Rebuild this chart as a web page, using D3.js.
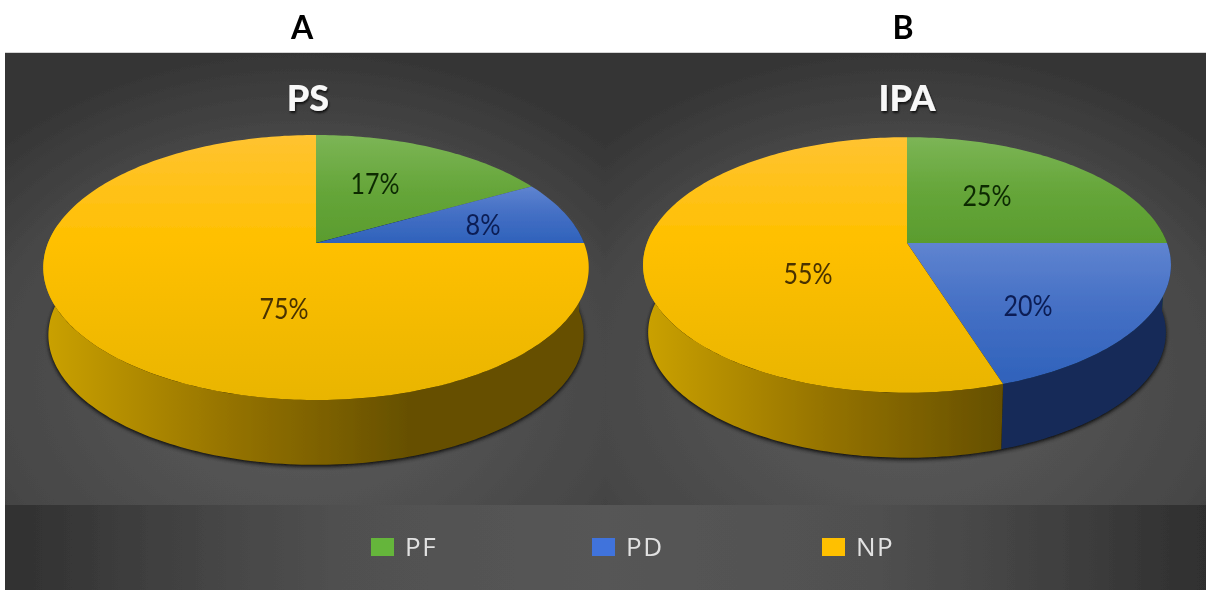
<!DOCTYPE html>
<html><head><meta charset="utf-8">
<script src="https://cdn.jsdelivr.net/npm/d3@7"></script>
<style>html,body{margin:0;padding:0;background:#fff;overflow:hidden}svg{display:block}</style>
</head><body><svg id="c" width="1206" height="590"></svg>
<script>
const categories = ["PF", "PD", "NP"];
const psValues = [17, 8, 75];
const ipaValues = [25, 20, 55];
const panelLetters = ["A", "B"];
const chartTitles = ["PS", "IPA"];

const layouts = [
  {x:5, w:600, cx:316, rx:268, k:0.185, R:128, rxB:263, RB:125.4, yB:311,
   lx:[375,483,284], ly:[184,225,309], letterX:302, titleX:308, wallEnd:408, wallStart:50},
  {x:605, w:601, cx:907, rx:260, k:0.172, R:124, rxB:255, RB:121.5, yB:311,
   lx:[987,1028,808], ly:[196,306,274], letterX:903, titleX:907, wallEnd:1000, wallStart:650}
];
const cy = 243;
const labelInk = ["#0e2c05", "#0b1f55", "#4a3300"];
const topStops = {
  PF:[["0","#7cb556"],["0.5","#66a63a"],["1","#5a9c2e"]],
  PD:[["0","#5f84d0"],["0.45","#4570c5"],["1","#2f62bb"]],
  NP:[["0","#ffc331"],["0.4","#ffc000"],["1","#e9b500"]]
};
const wallStops = {
  PF:[["0","#4f8a2a"],["1","#2a4a16"]],
  PD:[["0","#1a3566"],["1","#152c58"]],
  NP:[["0","#c9a000"],["0.5","#957300"],["1","#665000"]]
};
const swatchColors = {PF:"#65b53a",PD:"#3f73dc",NP:"#ffc000"};

const svg = d3.select("#c");
const defs = svg.append("defs");
const soft = defs.append("filter").attr("id","soft").attr("x","-2%").attr("y","-2%").attr("width","104%").attr("height","104%");
soft.append("feGaussianBlur").attr("stdDeviation",0.55);
const sh = defs.append("filter").attr("id","sh").attr("x","-10%").attr("y","-10%").attr("width","120%").attr("height","120%");
sh.append("feGaussianBlur").attr("stdDeviation",2.2);
const ts = defs.append("filter").attr("id","ts").attr("x","-20%").attr("y","-20%").attr("width","140%").attr("height","150%");
ts.append("feDropShadow").attr("dx",1).attr("dy",2).attr("stdDeviation",1).attr("flood-color","#000").attr("flood-opacity",0.75);

function stops(g, list){ list.forEach(s => g.append("stop").attr("offset",s[0]).attr("stop-color",s[1])); }

const bgG = defs.append("radialGradient").attr("id","bg").attr("cx","0.5").attr("cy","0.72").attr("r","0.72");
stops(bgG,[["0","#5a5a5a"],["0.45","#505050"],["0.75","#464646"],["1","#363636"]]);
const lgG = defs.append("linearGradient").attr("id","lg");
stops(lgG,[["0","#303030"],["0.12","#3f3f3f"],["0.28","#505050"],["0.5","#565656"],["0.72","#505050"],["0.88","#3f3f3f"],["1","#2f2f2f"]]);

const root = svg.append("g").attr("filter","url(#soft)");
root.append("rect").attr("x",0).attr("y",0).attr("width",1206).attr("height",590).attr("fill","#fff");
root.append("rect").attr("x",5).attr("y",52.5).attr("width",1201).attr("height",1).attr("fill","#aaa");

const pie = d3.pie().sort(null).value(d => d);
const line = d3.line();

[psValues, ipaValues].forEach((vals, i) => {
  const L = layouts[i];
  root.append("rect").attr("x",L.x).attr("y",53).attr("width",L.w).attr("height",452).attr("fill","url(#bg)");
  root.append("text").text(panelLetters[i]).attr("x",L.letterX).attr("y",39).attr("text-anchor","middle")
    .attr("font-family","Lato").attr("font-weight",700).attr("font-size",32).attr("fill","#000");
  root.append("text").text(chartTitles[i]).attr("x",L.titleX).attr("y",111).attr("text-anchor","middle")
    .attr("font-family","Lato").attr("font-weight",900).attr("font-size",36).attr("fill","#f8f8f8").attr("filter","url(#ts)");

  const topPt = a => { const u=Math.sin(a), v=-Math.cos(a), w=1-L.k*v; return [L.cx+L.rx*u/w, cy+L.R*v/w]; };
  const botPt = a => { const u=Math.sin(a), v=-Math.cos(a), w=1-L.k*v; return [L.cx+L.rxB*u/w, L.yB+L.RB*v/w]; };
  const arcPts = (fn,a0,a1) => { const n=Math.max(2,Math.ceil((a1-a0)/0.02)); return d3.range(n+1).map(j=>fn(a0+(a1-a0)*j/n)); };

  root.append("path").attr("d", line(arcPts(botPt,0,2*Math.PI))+"Z").attr("fill","#000").attr("opacity",0.95)
    .attr("transform","translate(0,1.5)").attr("filter","url(#sh)");

  const arcs = pie(vals);
  const g = root.append("g");
  arcs.forEach((d,j) => {
    const a0=Math.max(d.startAngle,Math.PI/2-0.15), a1=Math.min(d.endAngle,3*Math.PI/2+0.15);
    if(a1<=a0) return;
    const name=categories[j], id=`w${i}${j}`;
    const gr=defs.append("linearGradient").attr("id",id).attr("gradientUnits","userSpaceOnUse")
      .attr("x1",L.wallStart).attr("x2",L.wallEnd).attr("y1",0).attr("y2",0);
    stops(gr,wallStops[name]);
    g.append("path").attr("d",line(arcPts(topPt,a0,a1).concat(arcPts(botPt,a0,a1).reverse()))+"Z")
      .attr("fill",`url(#${id})`);
  });
  arcs.forEach((d,j) => {
    const name=categories[j], id=`t${i}${j}`;
    const pts=[[L.cx,cy]].concat(arcPts(topPt,d.startAngle,d.endAngle));
    const [y0,y1]=d3.extent(pts,p=>p[1]);
    const gr=defs.append("linearGradient").attr("id",id).attr("gradientUnits","userSpaceOnUse")
      .attr("x1",0).attr("x2",0).attr("y1",y0).attr("y2",y1);
    stops(gr,topStops[name]);
    g.append("path").attr("d",line(pts)+"Z").attr("fill",`url(#${id})`);
  });
  arcs.forEach((d,j) => {
    root.append("text").text(d3.format("d")(d.value)+"%").attr("x",L.lx[j]).attr("y",L.ly[j]+10)
      .attr("text-anchor","middle").attr("font-family","Lato").attr("font-size",28)
      .attr("textLength",d.value<10?35:49).attr("lengthAdjust","spacingAndGlyphs").attr("fill",labelInk[j]);
  });
});

root.append("rect").attr("x",5).attr("y",505).attr("width",1201).attr("height",85).attr("fill","url(#lg)");
const legX = d3.scaleOrdinal(categories,[371,592,822]);
const leg = root.selectAll("g.leg").data(categories).join("g").attr("class","leg")
  .attr("transform",d=>`translate(${legX(d)},538)`);
leg.append("rect").attr("width",23).attr("height",18).attr("fill",d=>swatchColors[d]);
leg.append("text").text(d=>d).attr("x",34).attr("y",17.5).attr("font-family","'Open Sans'").attr("font-size",26)
  .attr("letter-spacing",1.5).attr("fill","#e2e2e2");
</script></body></html>
